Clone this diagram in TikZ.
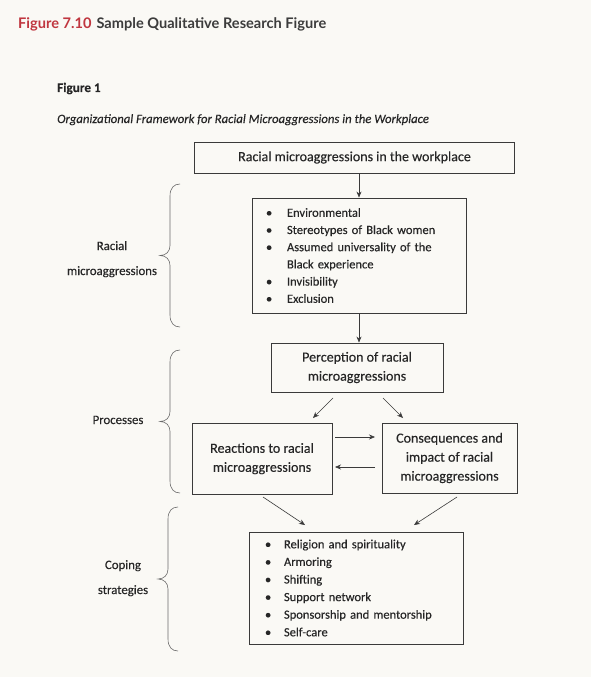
\documentclass[tikz,border=0pt]{standalone}
\usepackage{fontspec}
\setmainfont{Carlito}[FakeBold=0.25]
\newfontfamily\titlefont{Lato}
\usetikzlibrary{arrows.meta,positioning}
\definecolor{bgcol}{HTML}{FAF9F5}
\definecolor{ink}{HTML}{262626}
\definecolor{linecol}{HTML}{3A3A3A}
\definecolor{titlered}{HTML}{C0363F}
\definecolor{titlegray}{HTML}{3C3C3C}
\tikzset{
  boxstyle/.style={draw=linecol, line width=0.9pt, fill=none, inner sep=0pt, text=ink,
    font=\fontsize{14}{19}\selectfont, align=center},
  liststyle/.style={boxstyle, align=left},
  arr/.style={draw=linecol, line width=0.6pt, -{Stealth[length=6pt,width=5pt]}},
  bracestyle/.style={draw=linecol!75, line width=0.6pt},
  sidelabel/.style={text=ink, font=\fontsize{12.8}{25}\selectfont, align=center, inner sep=0pt},
}
\newcommand{\bul}[1]{\makebox[#1][l]{\textbullet}}
\newcommand{\drawmybrace}[3]{% x of ends, top y, bottom y
  \pgfmathsetmacro{\bmid}{(#2+#3)/2}
  \draw[bracestyle] (#1,#2) .. controls (#1-6,#2) and (#1-10,#2+4) .. (#1-10,#2+12)
     -- (#1-10,\bmid-10) .. controls (#1-10,\bmid-4) and (#1-14,\bmid) .. (#1-20,\bmid)
     .. controls (#1-14,\bmid) and (#1-10,\bmid+4) .. (#1-10,\bmid+10)
     -- (#1-10,#3-12) .. controls (#1-10,#3-4) and (#1-6,#3) .. (#1,#3);
}
\begin{document}
\begin{tikzpicture}[x=1pt,y=-1pt]
\path[fill=bgcol] (0,0) rectangle (591,677);
\useasboundingbox (0,0) rectangle (591,677);

% Title
\node[anchor=base west, inner sep=0pt, font=\titlefont\bfseries\fontsize{14.6}{17}\selectfont] (title) at (18,29)
  {\textcolor{titlered}{Figure 7.10}\hspace{5pt}\textcolor{titlegray}{Sample Qualitative Research Figure}};
\node[anchor=base west, inner sep=0pt, text=ink, font=\bfseries\fontsize{13.2}{14}\selectfont] (fig1) at (57,92) {Figure 1};
\node[anchor=base west, inner sep=0pt, text=ink, font=\itshape\fontsize{12.7}{14}\selectfont] (caption) at (57,123)
  {Organizational Framework for Racial Microaggressions in the Workplace};

% Boxes
\node[boxstyle, minimum width=320pt, minimum height=31pt] (top) at (354.5,157.5) {Racial microaggressions in the workplace};
\node[liststyle, minimum width=214pt, minimum height=115pt, text width=186pt,
      font=\fontsize{12.5}{17.2}\selectfont] (micro) at (359,255.5)
  {\bul{21pt}Environmental\\
   \bul{21pt}Stereotypes of Black women\\
   \bul{21pt}Assumed universality of the\\
   \hspace*{21pt}Black experience\\
   \bul{21pt}Invisibility\\
   \bul{21pt}Exclusion};
\node[boxstyle, minimum width=172pt, minimum height=49pt] (perc) at (357,367.5) {Perception of racial\\microaggressions};
\node[boxstyle, minimum width=140pt, minimum height=71pt] (react) at (262,458.5)
  {\raisebox{3pt}{\begin{tabular}{@{}c@{}}Reactions to racial\\microaggressions\end{tabular}}};
\node[boxstyle, minimum width=135pt, minimum height=70pt] (cons) at (449.5,458) {Consequences and\\impact of racial\\microaggressions};
\node[liststyle, minimum width=214pt, minimum height=112pt, text width=182pt,
      font=\fontsize{12.5}{17.6}\selectfont] (cope) at (356,588)
  {\bul{19pt}Religion and spirituality\\
   \bul{19pt}Armoring\\
   \bul{19pt}Shifting\\
   \bul{19pt}Support network\\
   \bul{19pt}Sponsorship and mentorship\\
   \bul{19pt}Self-care};

% Connectors
\draw[arr] (top.south -| micro.north) -- (micro.north);
\draw[arr] (micro.south) -- (micro.south |- perc.north);
\coordinate (p1s) at (333,398); \coordinate (p1e) at (313,418);
\coordinate (p2s) at (383,398); \coordinate (p2e) at (403,418);
\draw[arr] (p1s) -- (p1e);
\draw[arr] (p2s) -- (p2e);
\coordinate (h1s) at (335,437); \coordinate (h1e) at (375,437);
\coordinate (h2s) at (375,467); \coordinate (h2e) at (335,467);
\draw[arr] (h1s) -- (h1e);
\draw[arr] (h2s) -- (h2e);
\coordinate (c1s) at (263,497); \coordinate (c1e) at (305,525);
\coordinate (c2s) at (457,497); \coordinate (c2e) at (414,525);
\draw[arr] (c1s) -- (c1e);
\draw[arr] (c2s) -- (c2e);

% Braces and side labels
\drawmybrace{180}{184}{327}
\drawmybrace{180}{350}{493}
\drawmybrace{178}{507}{651}
\node[sidelabel, anchor=base] (lab1) at (112,275) {Racial\\microaggressions};
\node[sidelabel, anchor=base] (lab2) at (118,424) {Processes};
\node[sidelabel, anchor=base] (lab3) at (123,594) {Coping\\strategies};
\end{tikzpicture}
\end{document}
